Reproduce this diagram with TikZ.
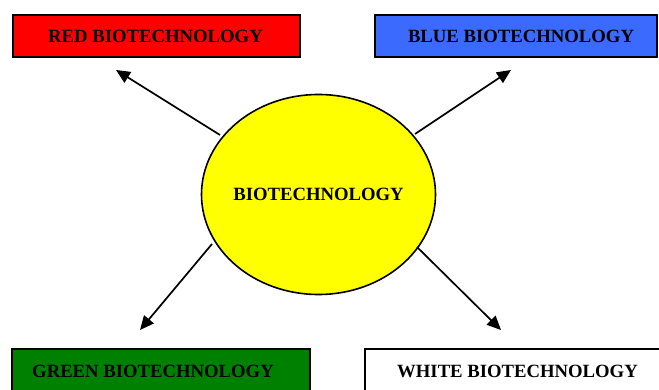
\documentclass[tikz,border=0pt]{standalone}
\usepackage{fontspec}
\setmainfont{Liberation Serif}
\usetikzlibrary{shapes.geometric,arrows.meta}
\definecolor{rbox}{RGB}{255,0,0}
\definecolor{bbox}{RGB}{58,106,255}
\definecolor{gbox}{RGB}{0,128,0}
\definecolor{ybox}{RGB}{255,255,0}
\tikzset{
  catbox/.style={draw=black, line width=2pt, rectangle, inner sep=0pt},
  catlabel/.style={inner sep=0pt, font=\fontsize{18.7}{21}\selectfont\bfseries},
  core/.style={draw=black, line width=1.6pt, ellipse, fill=ybox, inner sep=0pt,
    minimum width=234pt, minimum height=200pt},
  link/.style={line width=1.7pt, -{Triangle[length=14pt,width=12.5pt]}}
}
\begin{document}
\begin{tikzpicture}[x=1pt,y=-1pt]
\clip (0,0) rectangle (659,390);
\fill[white] (0,0) rectangle (659,390);
\node[catbox, fill=rbox, minimum width=287pt, minimum height=42pt] (red) at (156.5,36) {};
\node[catlabel] (redtext) at (155.5,36.5) {RED BIOTECHNOLOGY};
\node[catbox, fill=bbox, minimum width=282pt, minimum height=42pt] (blue) at (516,36) {};
\node[catlabel] (bluetext) at (521,36.5) {BLUE BIOTECHNOLOGY};
\node[catbox, fill=gbox, minimum width=298pt, minimum height=45pt] (green) at (161,371.5) {};
\node[catlabel] (greentext) at (153,371.5) {GREEN BIOTECHNOLOGY};
\node[catbox, fill=white, minimum width=305pt, minimum height=45pt] (white) at (517.5,371.5) {};
\node[catlabel] (whitetext) at (517.5,371.5) {WHITE BIOTECHNOLOGY};
\node[core] (bio) at (318.5,194.5) {};
\node[catlabel] (biotext) at (bio) {BIOTECHNOLOGY};
\coordinate (rs) at (220,135);
\coordinate (rt) at (116,70);
\coordinate (bs) at (415,134);
\coordinate (bt) at (511,70);
\coordinate (gs) at (212,244);
\coordinate (gt) at (140,330);
\coordinate (ws) at (417,247);
\coordinate (wt) at (501,330);
\draw[link] (rs) -- (rt);
\draw[link] (bs) -- (bt);
\draw[link] (gs) -- (gt);
\draw[link] (ws) -- (wt);
\end{tikzpicture}
\end{document}
